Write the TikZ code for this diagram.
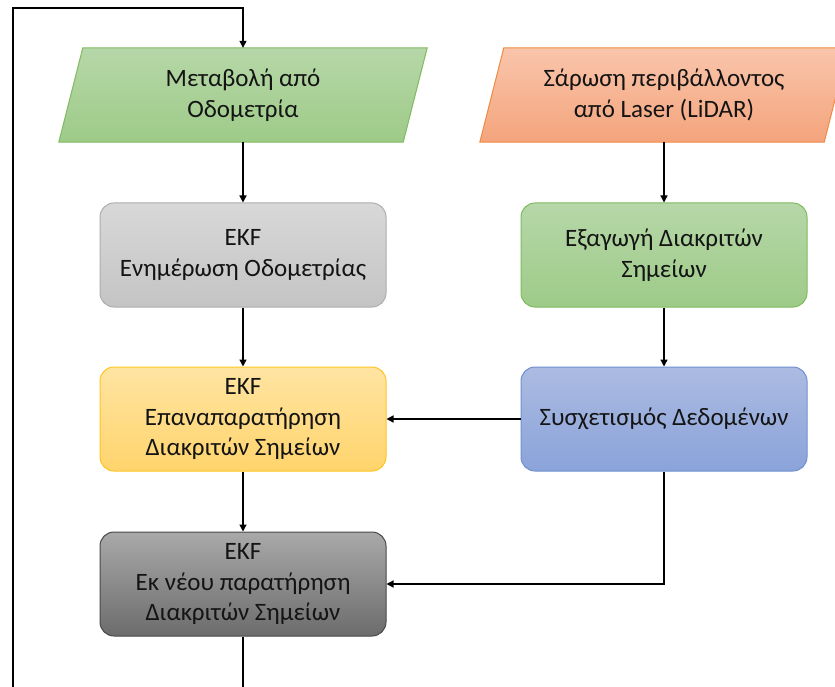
\documentclass[tikz,border=0pt]{standalone}
\usepackage{fontspec}
\setmainfont{Carlito}
\usetikzlibrary{calc,arrows.meta}

\definecolor{grnTop}{HTML}{B6D7A8}
\definecolor{grnBot}{HTML}{9ECB88}
\definecolor{grnLine}{HTML}{80BA60}
\definecolor{orgTop}{HTML}{F9C5AB}
\definecolor{orgBot}{HTML}{F4A47C}
\definecolor{orgLine}{HTML}{F08A42}
\definecolor{gryTop}{HTML}{D8D8D8}
\definecolor{gryBot}{HTML}{C4C4C4}
\definecolor{gryLine}{HTML}{ADADAD}
\definecolor{ylwTop}{HTML}{FFE4A2}
\definecolor{ylwBot}{HTML}{FFD46C}
\definecolor{ylwLine}{HTML}{FFC423}
\definecolor{bluTop}{HTML}{ACBBE2}
\definecolor{bluBot}{HTML}{8AA3D9}
\definecolor{bluLine}{HTML}{7090D0}
\definecolor{drkTop}{HTML}{A9A9A9}
\definecolor{drkBot}{HTML}{6C6C6C}
\definecolor{drkLine}{HTML}{484848}

\tikzset{
  every node/.style={font=\fontsize{25}{30.5}\selectfont, align=center, text=black!92},
  holder/.style={minimum width=320pt, minimum height=94pt, inner sep=0pt},
  procbox/.style={rectangle, rounded corners=14pt, minimum width=286pt,
    minimum height=104pt, inner sep=0pt, line width=1pt},
  flow/.style={line width=1.3pt, -{Triangle[length=7pt,width=7pt]}},
  plain/.style={line width=1.3pt}
}

\begin{document}
\begin{tikzpicture}[x=1pt,y=-1pt]
\useasboundingbox (0,0) rectangle (835,687);
\clip (0,0) rectangle (835,687);

% input parallelograms (slanted 24pt across the height)
\node[holder] (odo) at (243,95) {};
\node[holder] (lidar) at (664,95) {};
\foreach \n/\ca/\cb/\cl in {odo/grnTop/grnBot/grnLine, lidar/orgTop/orgBot/orgLine}{
  \path[draw=\cl, line width=1pt, top color=\ca, bottom color=\cb]
    (\n.north west) -- ($(\n.north east)+(24,0)$)
    -- (\n.south east) -- ($(\n.south west)+(-24,0)$) -- cycle;
}
\node at (odo) {Μεταβολή από\\Οδομετρία};
\node at (lidar) {Σάρωση περιβάλλοντος\\από Laser (LiDAR)};

% processing steps
\node[procbox, draw=gryLine, top color=gryTop, bottom color=gryBot] (upd) at (243,255)
  {EKF\\Ενημέρωση Οδομετρίας};
\node[procbox, draw=grnLine, top color=grnTop, bottom color=grnBot] (feat) at (664,255)
  {Εξαγωγή Διακριτών\\Σημείων};
\node[procbox, draw=ylwLine, top color=ylwTop, bottom color=ylwBot] (reobs) at (243,419)
  {EKF\\Επαναπαρατήρηση\\Διακριτών Σημείων};
\node[procbox, draw=bluLine, top color=bluTop, bottom color=bluBot] (assoc) at (664,419)
  {Συσχετισμός Δεδομένων};
\node[procbox, draw=drkLine, top color=drkTop, bottom color=drkBot] (newobs) at (243,584)
  {EKF\\Εκ νέου παρατήρηση\\Διακριτών Σημείων};

% connectors
\coordinate (loopBot) at (243,690);
\coordinate (loopL1) at (13,690);
\coordinate (loopL2) at (13,8);
\coordinate (loopTop) at (243,8);

\draw[flow] (odo.south) -- (upd.north);
\draw[flow] (upd.south) -- (reobs.north);
\draw[flow] (reobs.south) -- (newobs.north);
\draw[flow] (lidar.south) -- (feat.north);
\draw[flow] (feat.south) -- (assoc.north);
\draw[flow] (assoc.west) -- (reobs.east);
\draw[flow] (assoc.south) |- (newobs.east);
\draw[plain] (newobs.south) -- (loopBot);
\draw[flow] (loopL1) -- (loopL2) -- (loopTop) -- (odo.north);
\end{tikzpicture}
\end{document}
